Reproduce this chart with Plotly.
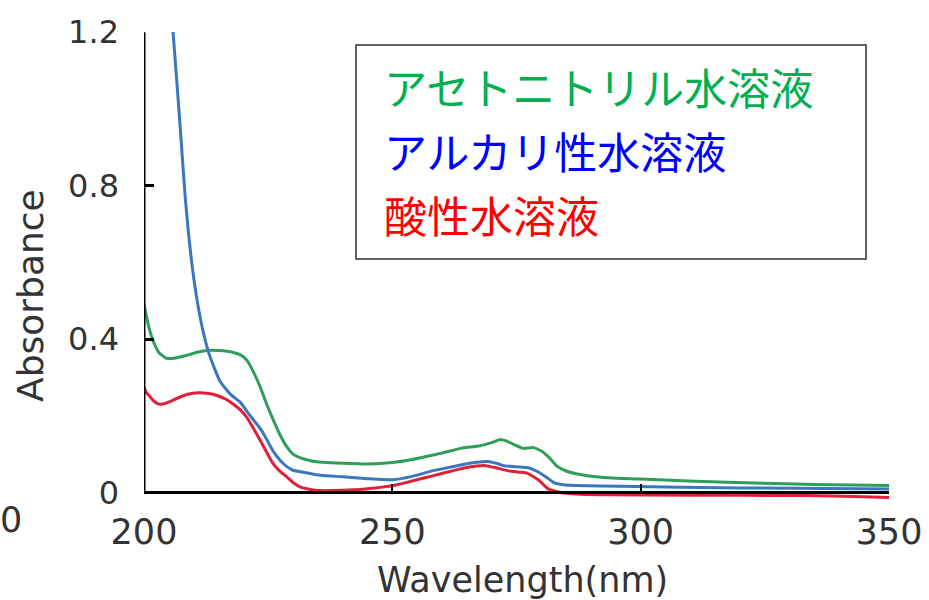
import plotly.graph_objects as go

# ---------------- data ----------------
series_names = ["アセトニトリル水溶液", "アルカリ性水溶液", "酸性水溶液"]

wl_acn = [200, 201, 202, 203, 204.5, 206, 208.5, 210.5, 212.7, 215, 218, 219.5, 220.7, 222,
          223.4, 224.7, 226, 227.4, 228.8, 230, 231.5, 233.5, 236, 240, 245, 250, 254, 258,
          261, 263.7, 267.7, 270, 271.8, 273, 274.5, 276.4, 278.4, 280, 281.5, 283.2, 285,
          287, 292, 300, 319, 335, 350]
abs_acn = [0.49, 0.43, 0.39, 0.365, 0.35, 0.35, 0.357, 0.365, 0.37, 0.37, 0.365, 0.358, 0.345,
           0.315, 0.275, 0.23, 0.19, 0.15, 0.118, 0.1, 0.09, 0.083, 0.079, 0.076, 0.074, 0.078,
           0.086, 0.097, 0.106, 0.115, 0.122, 0.13, 0.138, 0.134, 0.125, 0.115, 0.117, 0.108,
           0.092, 0.068, 0.056, 0.049, 0.04, 0.035, 0.026, 0.021, 0.018]

wl_alk = [205.5, 206.5, 207.3, 208.3, 209.7, 211.3, 212.9, 214, 215.3, 217.5, 219.4,
          220.8, 222, 223.5, 224.8, 226, 227.4, 228.7, 230, 232, 235.5, 240, 245, 250, 254,
          258.3, 262, 265, 267, 269.2, 271, 272.4, 275, 277.2, 279, 279.8, 281, 282.5, 284.5,
          287, 296, 320, 350]
abs_alk = [1.26, 1.09, 0.95, 0.77, 0.59, 0.457, 0.37, 0.33, 0.29, 0.255, 0.235, 0.21,
           0.19, 0.165, 0.136, 0.108, 0.084, 0.068, 0.058, 0.053, 0.045, 0.041, 0.036, 0.033,
           0.042, 0.057, 0.067, 0.075, 0.079, 0.081, 0.076, 0.07, 0.067, 0.065, 0.056, 0.05,
           0.04, 0.026, 0.02, 0.018, 0.016, 0.012, 0.009]

wl_acid = [200, 200.5, 201.2, 202, 203.2, 204.5, 206.6, 208.8, 210.9, 213, 214.7, 216.5, 218,
           219.5, 220.7, 222, 223.4, 224.7, 226, 227.4, 228.8, 230, 231.5, 233.5, 235.5, 238,
           242, 245, 248, 250.2, 254, 258.3, 262, 265, 268.8, 271, 273.2, 275.5, 277.2, 279.5,
           281.3, 283.9, 287, 292, 310, 333, 345, 350]
abs_acid = [0.275, 0.26, 0.25, 0.238, 0.23, 0.233, 0.245, 0.256, 0.26, 0.258, 0.253, 0.243,
            0.23, 0.214, 0.196, 0.168, 0.136, 0.105, 0.075, 0.055, 0.04, 0.026, 0.014, 0.008,
            0.005, 0.005, 0.007, 0.01, 0.014, 0.018, 0.03, 0.044, 0.056, 0.065, 0.07, 0.064,
            0.057, 0.053, 0.05, 0.032, 0.01, 0.0, -0.004, -0.006, -0.007, -0.008, -0.011,
            -0.013]

x_ticks = [200, 250, 300, 350]
y_ticks = [0, 0.4, 0.8, 1.2]
y_ticktext = ["0", "0.4", "0.8", "1.2"]
x_title = "Wavelength(nm)"
y_title = "Absorbance"

# ---------------- styles ----------------
line_colors = ["#2E9E5B", "#3A77BE", "#E02038"]
text_colors = ["#00B050", "#0000FF", "#FF0000"]

X_RANGE = [200, 350]
Y_RANGE = [-0.03, 1.2005]

W, H = 929, 600
M_L, M_R, M_T, M_B = 144, 40, 32, 96

def px_to_paper_x(px):
    return (px - M_L) / (W - M_L - M_R)

def px_to_paper_y(py):
    return (H - M_B - py) / (H - M_T - M_B)

fig = go.Figure()
for xs, ys, c, name in [(wl_acn, abs_acn, line_colors[0], series_names[0]),
                        (wl_alk, abs_alk, line_colors[1], series_names[1]),
                        (wl_acid, abs_acid, line_colors[2], series_names[2])]:
    fig.add_trace(go.Scatter(x=xs, y=ys, mode="lines", name=name,
                             line=dict(color=c, width=3, shape="spline", smoothing=0.5),
                             showlegend=False))

axis_font = "DejaVu Sans"
tick_color = "#333333"

fig.update_layout(
    width=W, height=H,
    margin=dict(l=M_L, r=M_R, t=M_T, b=M_B, autoexpand=False),
    paper_bgcolor="white", plot_bgcolor="white",
    font=dict(family=axis_font, color=tick_color),
    xaxis=dict(range=X_RANGE, tickvals=x_ticks, ticks="inside", ticklen=7, tickwidth=2,
               tickcolor="black", showline=True, linecolor="black", linewidth=3,
               showgrid=False, zeroline=False, anchor="free", automargin=False,
               position=(0 - Y_RANGE[0]) / (Y_RANGE[1] - Y_RANGE[0]),
               tickfont=dict(size=35, color=tick_color), ticklabelstandoff=8),
    yaxis=dict(range=Y_RANGE, tickvals=y_ticks, ticktext=y_ticktext, ticks="inside",
               ticklen=10, tickwidth=3, tickcolor="black", showline=False,
               showgrid=False, zeroline=False, automargin=False,
               tickfont=dict(size=32, color=tick_color), ticklabelstandoff=24),
)

# axis titles placed as in the reference
fig.add_annotation(text=x_title, xref="paper", yref="paper",
                   x=px_to_paper_x(522), y=px_to_paper_y(580),
                   xanchor="center", yanchor="middle", showarrow=False,
                   font=dict(family=axis_font, size=35, color=tick_color))
fig.add_annotation(text=y_title, xref="paper", yref="paper", textangle=-90,
                   x=px_to_paper_x(30), y=px_to_paper_y(296),
                   xanchor="center", yanchor="middle", showarrow=False,
                   font=dict(family=axis_font, size=36, color=tick_color))

# y axis line only from 0 to 1.2
fig.add_shape(type="line", xref="x", yref="y", x0=X_RANGE[0], x1=X_RANGE[0],
              y0=0, y1=y_ticks[-1], line=dict(color="black", width=3), layer="above")

# legend box with coloured text only
fig.add_shape(type="rect", xref="paper", yref="paper",
              x0=px_to_paper_x(356), x1=px_to_paper_x(866),
              y0=px_to_paper_y(259), y1=px_to_paper_y(45),
              line=dict(color="#333333", width=1.5), fillcolor="white", layer="above")
row_centers = [86, 150, 214]
for name, col, yc in zip(series_names, text_colors, row_centers):
    fig.add_annotation(text=name, xref="paper", yref="paper",
                       x=px_to_paper_x(382), y=px_to_paper_y(yc),
                       xanchor="left", yanchor="middle", showarrow=False,
                       font=dict(family="Noto Sans CJK JP", size=43, color=col))

# stray "0" at the left edge of the reference
fig.add_annotation(text="0", xref="paper", yref="paper",
                   x=px_to_paper_x(11), y=px_to_paper_y(520),
                   xanchor="center", yanchor="middle", showarrow=False,
                   font=dict(family=axis_font, size=35, color=tick_color))

fig.write_html("out.html")
